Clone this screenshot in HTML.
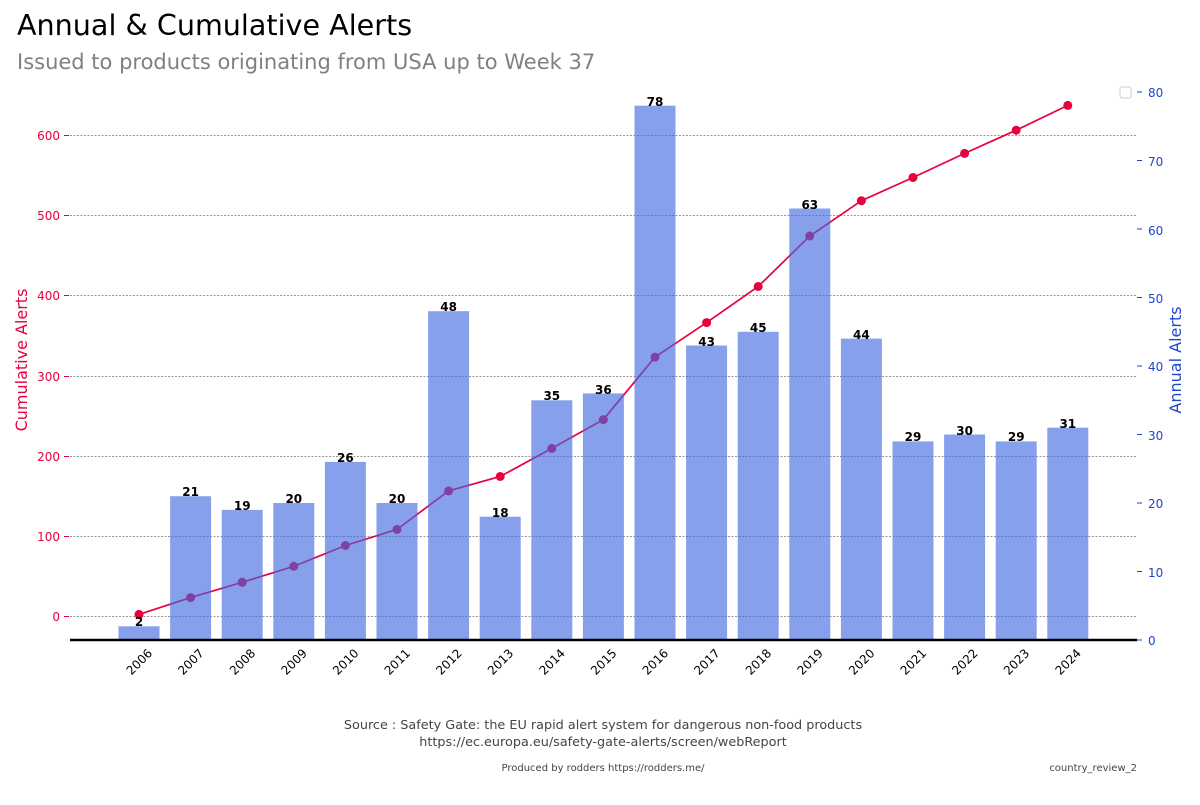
<!DOCTYPE html>
<html><head><meta charset="utf-8"><style>
body{margin:0;background:#fff;width:1200px;height:800px;overflow:hidden}
svg text{font-family:"DejaVu Sans","Liberation Sans",sans-serif}
</style></head><body>
<svg width="1200" height="800" xmlns="http://www.w3.org/2000/svg">
<text x="17" y="35" font-size="28.6" fill="#000">Annual &amp; Cumulative Alerts</text>
<text x="17" y="69" font-size="21" fill="#808080">Issued to products originating from USA up to Week 37</text>
<g stroke="#777" stroke-width="0.7" stroke-dasharray="2,1.5">
<line x1="70" x2="1137" y1="135.5" y2="135.5"/><line x1="70" x2="1137" y1="215.5" y2="215.5"/>
<line x1="70" x2="1137" y1="295.5" y2="295.5"/><line x1="70" x2="1137" y1="376.5" y2="376.5"/>
<line x1="70" x2="1137" y1="456.5" y2="456.5"/><line x1="70" x2="1137" y1="536.5" y2="536.5"/>
<line x1="70" x2="1137" y1="616.5" y2="616.5"/>
</g>
<g font-size="12" fill="#e8003d" text-anchor="end">
<text x="60" y="140">600</text><text x="60" y="220">500</text><text x="60" y="300">400</text>
<text x="60" y="381">300</text><text x="60" y="461">200</text><text x="60" y="541">100</text><text x="60" y="621">0</text>
</g>
<g stroke="#e8003d"><line x1="64" x2="69" y1="135.5" y2="135.5"/><line x1="64" x2="69" y1="215.5" y2="215.5"/><line x1="64" x2="69" y1="295.5" y2="295.5"/><line x1="64" x2="69" y1="376.5" y2="376.5"/><line x1="64" x2="69" y1="456.5" y2="456.5"/><line x1="64" x2="69" y1="536.5" y2="536.5"/><line x1="64" x2="69" y1="616.5" y2="616.5"/></g>
<text transform="translate(27,360) rotate(-90)" font-size="16" fill="#e8003d" text-anchor="middle">Cumulative Alerts</text>
<g font-size="12" fill="#1f45d0">
<text x="1148" y="97">80</text><text x="1148" y="235">60</text><text x="1148" y="166">70</text>
<text x="1148" y="303">50</text><text x="1148" y="371">40</text><text x="1148" y="440">30</text>
<text x="1148" y="508">20</text><text x="1148" y="577">10</text><text x="1148" y="645">0</text>
</g>
<g stroke="#1f45d0"><line x1="1137" x2="1142" y1="92" y2="92"/><line x1="1137" x2="1142" y1="160.5" y2="160.5"/><line x1="1137" x2="1142" y1="229" y2="229"/><line x1="1137" x2="1142" y1="297.5" y2="297.5"/><line x1="1137" x2="1142" y1="366" y2="366"/><line x1="1137" x2="1142" y1="434.5" y2="434.5"/><line x1="1137" x2="1142" y1="503" y2="503"/><line x1="1137" x2="1142" y1="571.5" y2="571.5"/><line x1="1137" x2="1142" y1="640" y2="640"/></g>
<text transform="translate(1181,360) rotate(-90)" font-size="16" fill="#1f45d0" text-anchor="middle">Annual Alerts</text>
<rect x="1120" y="87" width="11" height="11" rx="2" fill="#fff" stroke="#ccc"/>
<polyline fill="none" stroke="#e8003d" stroke-width="1.7" points="139,614.4 190.6,597.6 242.2,582.3 293.8,566.3 345.4,545.5 397,529.4 448.6,490.9 500.2,476.5 551.8,448.4 603.4,419.6 655,357.1 706.6,322.6 758.2,286.5 809.8,236 861.4,200.7 913,177.5 964.6,153.4 1016.2,130.2 1067.8,105.4"/>
<g fill="#e8003d">
<circle cx="139" cy="614.4" r="4.5"/><circle cx="190.6" cy="597.6" r="4.5"/><circle cx="242.2" cy="582.3" r="4.5"/><circle cx="293.8" cy="566.3" r="4.5"/><circle cx="345.4" cy="545.5" r="4.5"/><circle cx="397" cy="529.4" r="4.5"/><circle cx="448.6" cy="490.9" r="4.5"/><circle cx="500.2" cy="476.5" r="4.5"/><circle cx="551.8" cy="448.4" r="4.5"/><circle cx="603.4" cy="419.6" r="4.5"/><circle cx="655" cy="357.1" r="4.5"/><circle cx="706.6" cy="322.6" r="4.5"/><circle cx="758.2" cy="286.5" r="4.5"/><circle cx="809.8" cy="236" r="4.5"/><circle cx="861.4" cy="200.7" r="4.5"/><circle cx="913" cy="177.5" r="4.5"/><circle cx="964.6" cy="153.4" r="4.5"/><circle cx="1016.2" cy="130.2" r="4.5"/><circle cx="1067.8" cy="105.4" r="4.5"/>
</g>
<g fill="rgb(65,105,225)" fill-opacity="0.63">
<rect x="118.5" y="626.3" width="41" height="13.7"/>
<rect x="170.1" y="496.2" width="41" height="143.8"/>
<rect x="221.7" y="509.9" width="41" height="130.1"/>
<rect x="273.3" y="503" width="41" height="137"/>
<rect x="324.9" y="461.9" width="41" height="178.1"/>
<rect x="376.5" y="503" width="41" height="137"/>
<rect x="428.1" y="311.2" width="41" height="328.8"/>
<rect x="479.7" y="516.7" width="41" height="123.3"/>
<rect x="531.3" y="400.3" width="41" height="239.7"/>
<rect x="582.9" y="393.4" width="41" height="246.6"/>
<rect x="634.5" y="105.7" width="41" height="534.3"/>
<rect x="686.1" y="345.5" width="41" height="294.5"/>
<rect x="737.7" y="331.8" width="41" height="308.2"/>
<rect x="789.3" y="208.5" width="41" height="431.5"/>
<rect x="840.9" y="338.6" width="41" height="301.4"/>
<rect x="892.5" y="441.4" width="41" height="198.6"/>
<rect x="944.1" y="434.5" width="41" height="205.5"/>
<rect x="995.7" y="441.4" width="41" height="198.6"/>
<rect x="1047.3" y="427.7" width="41" height="212.3"/>
</g>
<g font-size="12" font-weight="bold" text-anchor="middle" fill="#000">
<text x="139" y="626">2</text><text x="190.6" y="496">21</text><text x="242.2" y="510">19</text><text x="293.8" y="503">20</text><text x="345.4" y="462">26</text><text x="397" y="503">20</text><text x="448.6" y="311">48</text><text x="500.2" y="517">18</text><text x="551.8" y="400">35</text><text x="603.4" y="394">36</text><text x="655" y="106">78</text><text x="706.6" y="346">43</text><text x="758.2" y="332">45</text><text x="809.8" y="209">63</text><text x="861.4" y="339">44</text><text x="913" y="441">29</text><text x="964.6" y="435">30</text><text x="1016.2" y="441">29</text><text x="1067.8" y="428">31</text>
</g>
<line x1="70" x2="1137" y1="640" y2="640" stroke="#000" stroke-width="2.5"/>
<g font-size="12" fill="#000" text-anchor="end">
<text transform="translate(153,654) rotate(-45)">2006</text><text transform="translate(204.6,654) rotate(-45)">2007</text><text transform="translate(256.2,654) rotate(-45)">2008</text><text transform="translate(307.8,654) rotate(-45)">2009</text><text transform="translate(359.4,654) rotate(-45)">2010</text><text transform="translate(411,654) rotate(-45)">2011</text><text transform="translate(462.6,654) rotate(-45)">2012</text><text transform="translate(514.2,654) rotate(-45)">2013</text><text transform="translate(565.8,654) rotate(-45)">2014</text><text transform="translate(617.4,654) rotate(-45)">2015</text><text transform="translate(669,654) rotate(-45)">2016</text><text transform="translate(720.6,654) rotate(-45)">2017</text><text transform="translate(772.2,654) rotate(-45)">2018</text><text transform="translate(823.8,654) rotate(-45)">2019</text><text transform="translate(875.4,654) rotate(-45)">2020</text><text transform="translate(927,654) rotate(-45)">2021</text><text transform="translate(978.6,654) rotate(-45)">2022</text><text transform="translate(1030.2,654) rotate(-45)">2023</text><text transform="translate(1081.8,654) rotate(-45)">2024</text>
</g>
<text x="603" y="729" font-size="12.8" fill="#444" text-anchor="middle">Source : Safety Gate: the EU rapid alert system for dangerous non-food products</text>
<text x="603" y="746" font-size="12.8" fill="#444" text-anchor="middle">https://ec.europa.eu/safety-gate-alerts/screen/webReport</text>
<text x="603" y="771" font-size="10" fill="#444" text-anchor="middle">Produced by rodders https://rodders.me/</text>
<text x="1137" y="771" font-size="10" fill="#444" text-anchor="end">country_review_2</text>
</svg>
</body></html>
